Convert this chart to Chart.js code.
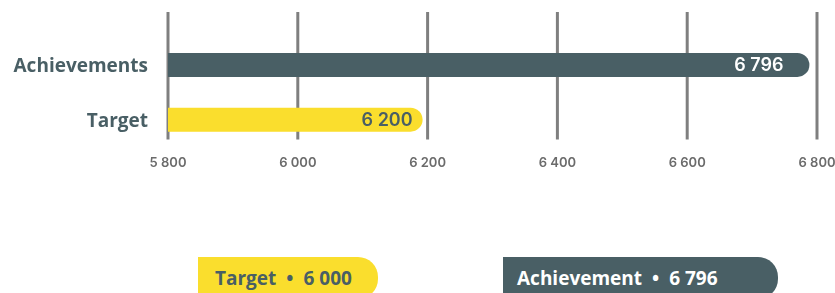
<!DOCTYPE html>
<html>
<head>
<meta charset="utf-8">
<script src="https://cdn.jsdelivr.net/npm/chart.js@4.4.1/dist/chart.umd.min.js"></script>
<style>
  html, body { margin: 0; padding: 0; background: #fff; }
  body { width: 835px; height: 293px; overflow: hidden; position: relative; }
  #chartBox { position: absolute; left: 0; top: 0; width: 835px; height: 180px; }
  .pill {
    position: absolute; top: 257px; height: 42px; line-height: 42px;
    box-sizing: border-box; border-radius: 0 20px 20px 0;
    font-family: "Open Sans", sans-serif; font-weight: 700; font-size: 19px;
    white-space: nowrap;
  }
  .pill .dot { margin: 0 10px; }
</style>
</head>
<body>
<div id="chartBox"><canvas id="barChart"></canvas></div>
<div id="pillTarget" class="pill" style="left:198px;width:180px;padding-left:17px;background:#fade2d;color:#495f65;"></div>
<div id="pillAchievement" class="pill" style="left:503px;width:275px;padding-left:14px;background:#495f65;color:#fff;"></div>
<script>
// datos del grafico
const categories = ['Achievements', 'Target'];
const values = [6796, 6200];
const xTicks = [5800, 6000, 6200, 6400, 6600, 6800];

// etiquetas de abajo
const legendNames = ['Target', 'Achievement'];
const legendValues = [6000, 6796];

const DARK = '#495f65';
const YELLOW = '#fade2d';

function fmt(v) {
    return String(v).replace(/\B(?=(\d{3})+(?!\d))/g, ' ');
}

// pastillas de abajo
document.getElementById('pillTarget').innerHTML =
    legendNames[0] + '<span class="dot">•</span>' + fmt(legendValues[0]);
document.getElementById('pillAchievement').innerHTML =
    legendNames[1] + '<span class="dot">•</span>' + fmt(legendValues[1]);

// lineas verticales (un poco mas altas que el area del grafico)
const gridPlugin = {
    id: 'tallGrid',
    beforeDatasetsDraw(chart, args, opts) {
        const x = chart.scales.x;
        const area = chart.chartArea;
        const ctx = chart.ctx;
        ctx.save();
        ctx.strokeStyle = opts.color;
        ctx.lineWidth = opts.width;
        x.ticks.forEach(t => {
            const px = x.getPixelForValue(t.value);
            ctx.beginPath();
            ctx.moveTo(px, area.top - opts.extendTop);
            ctx.lineTo(px, area.bottom - opts.trimBottom);
            ctx.stroke();
        });
        ctx.restore();
    }
};

// numeros dentro de las barras
const valueLabels = {
    id: 'valueLabels',
    afterDatasetsDraw(chart, args, opts) {
        const ctx = chart.ctx;
        const meta = chart.getDatasetMeta(0);
        ctx.save();
        ctx.font = opts.font;
        ctx.textAlign = 'right';
        ctx.textBaseline = 'middle';
        meta.data.forEach((bar, i) => {
            ctx.fillStyle = opts.colors[i];
            ctx.fillText(fmt(values[i]), bar.x - opts.pads[i], bar.y + 1);
        });
        ctx.restore();
    }
};

const ctx = document.getElementById('barChart').getContext('2d');
const barChart = new Chart(ctx, {
    type: 'bar',
    data: {
        labels: categories,
        datasets: [{
            data: values,
            backgroundColor: [DARK, YELLOW],
            borderRadius: { topLeft: 0, bottomLeft: 0, topRight: 12, bottomRight: 12 },
            borderSkipped: false,
            barThickness: 34,
            inflateAmount: -5
        }]
    },
    plugins: [gridPlugin, valueLabels],
    options: {
        indexAxis: 'y',
        responsive: true,
        maintainAspectRatio: false,
        animation: false,
        layout: { padding: { top: 37.5, right: 18, bottom: 9, left: 0 } },
        scales: {
            x: {
                min: 5800,
                max: 6800,
                afterBuildTicks(scale) {
                    scale.ticks = xTicks.map(v => ({ value: v }));
                },
                afterFit(scale) {
                    scale.height = 24;
                    scale.paddingLeft = 0;
                    scale.paddingRight = 0;
                },
                grid: { display: false, drawTicks: false },
                border: { display: false },
                ticks: {
                    padding: 8,
                    maxRotation: 0,
                    color: '#6b6b6b',
                    font: { family: 'Inter', size: 13, weight: '600' },
                    callback: v => fmt(v)
                }
            },
            y: {
                grid: { display: false, drawTicks: false },
                border: { display: false },
                afterFit(scale) { scale.width = 168; },
                ticks: {
                    padding: 20,
                    labelOffset: 2,
                    color: DARK,
                    font: { family: 'Open Sans', size: 19, weight: '700' }
                }
            }
        },
        plugins: {
            legend: { display: false },
            tooltip: { enabled: false },
            tallGrid: { color: '#7f7f7f', width: 3, extendTop: 25.5, trimBottom: 7.5 },
            valueLabels: {
                font: '600 18px Inter',
                colors: ['#ffffff', DARK],
                pads: [31, 15]
            }
        }
    }
});
</script>
</body>
</html>
